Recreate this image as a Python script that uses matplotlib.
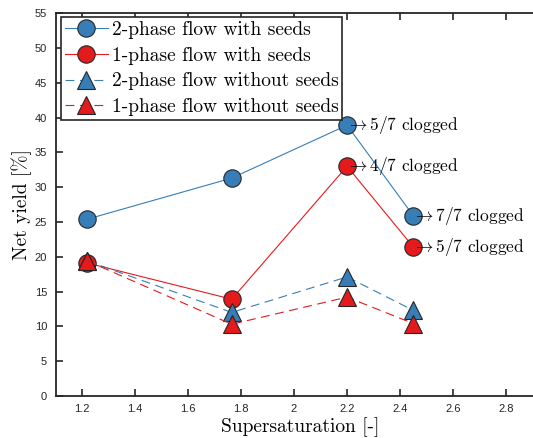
import matplotlib
matplotlib.use("Agg")
import matplotlib.pyplot as plt
from matplotlib.ticker import FuncFormatter

# supersaturation values
x = [1.22, 1.765, 2.2, 2.45]

# net yield [%]
two_phase_seeds = [25.4, 31.3, 38.9, 25.9]
one_phase_seeds = [19.1, 13.9, 33.0, 21.4]
two_phase_no_seeds = [19.4, 12.0, 17.1, 12.3]
one_phase_no_seeds = [19.4, 10.3, 14.2, 10.4]

labels = ["2-phase flow with seeds", "1-phase flow with seeds",
          "2-phase flow without seeds", "1-phase flow without seeds"]

# clog notes: (x, y, text)
notes = [(2.2, 38.9, "5/7 clogged"), (2.2, 33.0, "4/7 clogged"),
         (2.45, 25.9, "7/7 clogged"), (2.45, 21.4, "5/7 clogged")]

blue = "#377eb8"
red = "#e41a1c"
edge = "#262626"

plt.rcParams["mathtext.fontset"] = "cm"
serif = "cmr10"

fig = plt.figure(figsize=(5.33, 4.38), dpi=100)
# axes runs past the right edge of the figure, as in the original crop
ax = fig.add_axes([55.5 / 533, 0.096, 489.5 / 533, 0.874])

mk = dict(markersize=12.5, markeredgecolor=edge, markeredgewidth=0.8)
ax.plot(x, two_phase_seeds, "-", color=blue, lw=0.8, marker="o",
        markerfacecolor=blue, label=labels[0], **mk)
ax.plot(x, one_phase_seeds, "-", color=red, lw=0.8, marker="o",
        markerfacecolor=red, label=labels[1], **mk)
ax.plot(x, two_phase_no_seeds, "--", color=blue, lw=0.8, marker="^",
        markerfacecolor=blue, label=labels[2], dashes=(8, 5), **mk)
ax.plot(x, one_phase_no_seeds, "--", color=red, lw=0.8, marker="^",
        markerfacecolor=red, label=labels[3], dashes=(8, 5), **mk)

for nx, ny, txt in notes:
    ax.annotate(r"$\rightarrow$" + txt, (nx, ny), xytext=(-1, 0),
                textcoords="offset points", ha="left", va="center",
                fontsize=12.5, family=serif, annotation_clip=False)

ax.set_xlim(1.1, 2.947)
ax.set_ylim(0, 55)
ax.set_xticks([1.2, 1.4, 1.6, 1.8, 2.0, 2.2, 2.4, 2.6, 2.8])
ax.set_yticks(range(0, 56, 5))
ax.xaxis.set_major_formatter(FuncFormatter(lambda v, p: f"{v:g}"))
ax.tick_params(direction="in", top=True, right=False, length=5, width=1.2,
               labelsize=8, colors=edge, pad=6)
for lab in ax.get_xticklabels() + ax.get_yticklabels():
    lab.set_family("Liberation Sans")
for s in ax.spines.values():
    s.set_linewidth(1.3)
    s.set_color(edge)
ax.spines["right"].set_visible(False)

ax.set_xlabel("Supersaturation [-]", family=serif, fontsize=14, labelpad=2)
ax.set_ylabel("Net yield [%]", family=serif, fontsize=14, labelpad=2)

leg = ax.legend(loc="upper left", bbox_to_anchor=(0.0112, 0.99),
                prop={"family": serif, "size": 14},
                fancybox=False, framealpha=1, edgecolor=edge,
                borderpad=0.2, labelspacing=0.4, handlelength=2.2,
                handletextpad=0.2, borderaxespad=0.0)
leg.get_frame().set_linewidth(1.2)

fig.savefig("out.png", dpi=100)
